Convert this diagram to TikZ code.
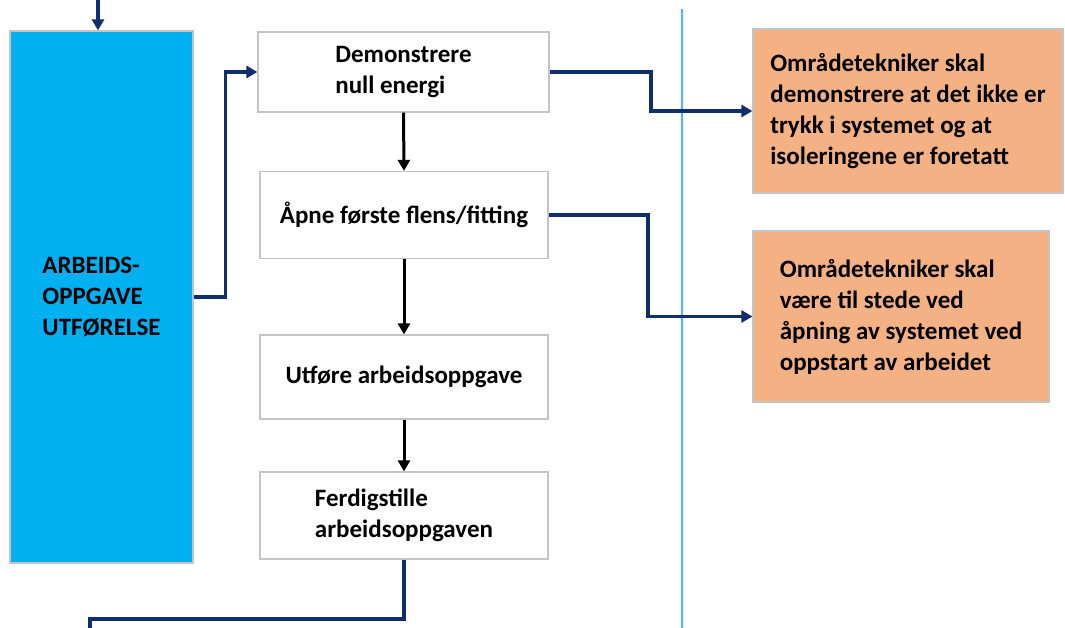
\documentclass[tikz,border=0pt]{standalone}
\usepackage{fontspec}
\setmainfont{Carlito}
\usetikzlibrary{arrows.meta}
\definecolor{navy}{HTML}{102D6E}
\definecolor{skyblue}{HTML}{00B0F0}
\definecolor{vline}{HTML}{3CC4F5}
\definecolor{peach}{HTML}{F4B183}
\definecolor{edgegray}{HTML}{C4C4C4}
\tikzset{
  basebox/.style={draw=edgegray, line width=1.2pt, inner sep=0pt, align=left,
    font=\fontsize{25}{31}\selectfont\bfseries},
  whitebox/.style={basebox, fill=white},
  bluebox/.style={basebox, fill=skyblue},
  orangebox/.style={basebox, fill=peach},
  navyarrow/.style={draw=navy, line width=3.2pt, -{Triangle[length=11pt,width=12pt]}},
  navyline/.style={draw=navy, line width=3.2pt},
  blackarrow/.style={draw=black, line width=3pt, -{Triangle[length=11pt,width=12pt]}},
}
\begin{document}
\begin{tikzpicture}[x=1pt,y=-1pt]
\useasboundingbox (0,0) rectangle (1065,628);
\fill[white] (0,0) rectangle (1065,628);
% vertical separator
\coordinate (vtop) at (682,9);
\coordinate (vbot) at (682,628);
\draw[vline, line width=2pt] (vtop) -- (vbot);
% nodes
\node[bluebox, minimum width=183pt, minimum height=532pt] (blue) at (101.5,297) {ARBEIDS-\\OPPGAVE\\UTFØRELSE};
\node[whitebox, minimum width=291pt, minimum height=80pt] (b1) at (403.5,72) {Demonstrere\\null energi};
\node[whitebox, minimum width=288pt, minimum height=87pt] (b2) at (404,215) {Åpne første flens/fitting};
\node[whitebox, minimum width=288pt, minimum height=84pt] (b3) at (404,377) {Utføre arbeidsoppgave};
\node[whitebox, minimum width=288pt, minimum height=87pt] (b4) at (404,515.5) {Ferdigstille\\arbeidsoppgaven};
\node[orangebox, minimum width=310pt, minimum height=164pt] (o1) at (908,111) {Områdetekniker skal\\demonstrere at det ikke er\\trykk i systemet og at\\isoleringene er foretatt};
\node[orangebox, minimum width=296pt, minimum height=171pt] (o2) at (901,316.5) {Områdetekniker skal\\være til stede ved\\åpning av systemet ved\\oppstart av arbeidet};
% connectors
\coordinate (topin) at (98,0);
\draw[navyarrow] (topin) -- (topin |- blue.north);
\draw[navyarrow] (blue.east) -- ++(32,0) |- (b1.west);
\draw[blackarrow] (b1.south) -- (b2.north);
\draw[blackarrow] (b2.south) -- (b3.north);
\draw[blackarrow] (b3.south) -- (b4.north);
\draw[navyarrow] (b1.east) -- (651,72) |- (o1.west);
\draw[navyarrow] (b2.east) -- (648,215) |- (o2.west);
\coordinate (botout) at (90,628);
\draw[navyline] (b4.south) |- (90,619) -- (botout);
\end{tikzpicture}
\end{document}
